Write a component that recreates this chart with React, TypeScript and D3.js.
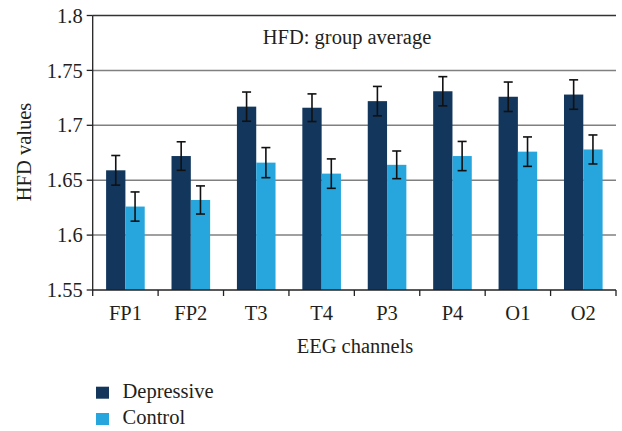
import * as d3 from "d3";

const channels = ["FP1", "FP2", "T3", "T4", "P3", "P4", "O1", "O2"];
const seriesNames = ["Depressive", "Control"];
const depressive = [1.659, 1.672, 1.717, 1.716, 1.722, 1.731, 1.726, 1.728];
const depressiveErr = [0.0135, 0.013, 0.0133, 0.0126, 0.0134, 0.0133, 0.0134, 0.0134];
const control = [1.626, 1.632, 1.666, 1.656, 1.664, 1.672, 1.676, 1.678];
const controlErr = [0.0133, 0.0128, 0.0137, 0.0134, 0.0126, 0.0133, 0.0134, 0.0132];
const yTicks = [1.55, 1.6, 1.65, 1.7, 1.75, 1.8];
const colors = ["#12365c", "#27a6de"];

const W = 622;
const H = 431;
const left = 92.7;
const right = 616;
const top = 15.5;
const bottom = 290;
const font = '"Liberation Serif", "DejaVu Serif", serif';
const fs = 20.5;

export default function App() {
  const x = d3.scaleBand().domain(channels).range([left, right]);
  const inner = d3
    .scaleBand()
    .domain(seriesNames)
    .range([13.4, x.bandwidth() - 13.4]);
  const y = d3.scaleLinear().domain([1.55, 1.8]).range([bottom, top]);

  const rows = [
    { name: seriesNames[0], values: depressive, errs: depressiveErr, color: colors[0] },
    { name: seriesNames[1], values: control, errs: controlErr, color: colors[1] },
  ];

  const tickEdges = channels.map((c) => x(c)!).concat([right]);
  const txt = { fontFamily: font, fontSize: fs, fill: "#231f20" };
  const fmt = (t: number) =>
    Math.abs(t * 10 - Math.round(t * 10)) < 1e-9 ? d3.format(".1f")(t) : d3.format(".2f")(t);

  return (
    <svg
      width={W}
      height={H}
      style={{ position: "absolute", left: 0, top: 0, background: "#fff" }}
    >
      {/* grid */}
      {yTicks.map((t) => (
        <g key={t}>
          {t > 1.55 && (
            <line
              x1={left}
              x2={right}
              y1={y(t)}
              y2={y(t)}
              stroke={t === 1.8 ? "#333" : "#808080"}
              strokeWidth={1.5}
            />
          )}
          <line x1={left - 6} x2={left} y1={y(t)} y2={y(t)} stroke="#222" strokeWidth={1.3} />
          <text x={left - 10} y={y(t)} dy="0.35em" textAnchor="end" style={txt}>
            {fmt(t)}
          </text>
        </g>
      ))}

      {/* bars */}
      {rows.map((r) =>
        channels.map((c, i) => {
          const bx = x(c)! + inner(r.name)!;
          const cx = bx + inner.bandwidth() / 2;
          return (
            <g key={r.name + c}>
              <rect
                x={bx}
                y={y(r.values[i])}
                width={inner.bandwidth()}
                height={bottom - y(r.values[i])}
                fill={r.color}
              />
              <line
                x1={cx}
                x2={cx}
                y1={y(r.values[i] + r.errs[i])}
                y2={y(r.values[i] - r.errs[i])}
                stroke="#111"
                strokeWidth={1.6}
              />
              {[r.values[i] + r.errs[i], r.values[i] - r.errs[i]].map((v, k) => (
                <line
                  key={k}
                  x1={cx - 4.5}
                  x2={cx + 4.5}
                  y1={y(v)}
                  y2={y(v)}
                  stroke="#111"
                  strokeWidth={1.6}
                />
              ))}
            </g>
          );
        })
      )}

      {/* axes */}
      <line x1={left} x2={left} y1={top} y2={bottom} stroke="#222" strokeWidth={1.3} />
      <line x1={left} x2={right} y1={bottom} y2={bottom} stroke="#222" strokeWidth={1.5} />
      {tickEdges.map((tx, i) => (
        <line key={i} x1={tx} x2={tx} y1={bottom} y2={bottom + 6} stroke="#222" strokeWidth={1.3} />
      ))}
      {channels.map((c) => (
        <text key={c} x={x(c)! + x.bandwidth() / 2} y={320} textAnchor="middle" style={txt}>
          {c}
        </text>
      ))}

      <text x={355} y={353} textAnchor="middle" style={txt}>
        EEG channels
      </text>
      <text transform="translate(31,152) rotate(-90)" textAnchor="middle" style={txt}>
        HFD values
      </text>
      <text x={347} y={44} textAnchor="middle" style={txt}>
        HFD: group average
      </text>

      {/* legend */}
      {rows.map((r, i) => (
        <g key={r.name} transform={`translate(96,${386.7 + i * 26.3})`}>
          <rect width={13} height={12} fill={r.color} />
          <text x={26.5} y={11} style={txt}>
            {r.name}
          </text>
        </g>
      ))}
    </svg>
  );
}
